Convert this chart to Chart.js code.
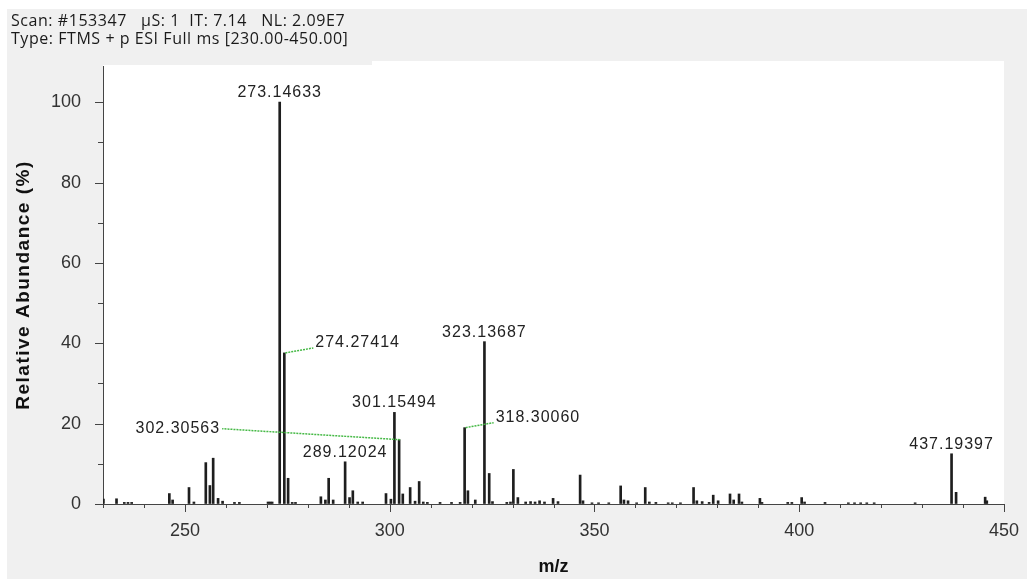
<!DOCTYPE html>
<html>
<head>
<meta charset="utf-8">
<script src="https://cdn.jsdelivr.net/npm/chart.js@4.4.1/dist/chart.umd.min.js"></script>
<style>
    html, body { margin: 0; padding: 0; background: #fff; }
    #wrap { width: 1027px; height: 579px; }
</style>
</head>
<body>
<div id="wrap"><canvas id="spectrum" width="1027" height="579"></canvas></div>
<script>
const scanInfo = 'Scan: #153347   µS: 1  IT: 7.14   NL: 2.09E7';
const scanType = 'Type: FTMS + p ESI Full ms [230.00-450.00]';
const xTitle = 'm/z';
const yTitle = 'Relative Abundance (%)';

// centroid peaks
const peakMz = [
    230.1, 233.3, 235.2, 236.1, 237.0, 246.2, 247.0, 251.0, 252.2, 255.1,
    256.1, 256.9, 258.1, 259.2, 262.1, 263.3, 270.3, 270.8, 271.3, 273.14633,
    274.27414, 275.2, 276.2, 277.0, 283.2, 284.3, 285.1, 286.2, 289.12024, 290.2,
    291.0, 292.2, 293.4, 299.1, 300.3, 301.15494, 302.30563, 303.2, 305.0, 306.2,
    307.2, 308.2, 309.2, 312.3, 315.1, 317.2, 318.30060, 319.1, 320.9, 323.13687,
    324.3, 325.1, 328.6, 329.5, 330.2, 331.3, 333.2, 334.4, 335.5, 336.6,
    337.8, 339.9, 341.1, 346.5, 347.2, 349.4, 351.0, 353.5, 356.4, 357.2,
    358.2, 360.3, 362.4, 363.4, 365.0, 368.0, 369.0, 371.0, 374.2, 375.0,
    376.3, 378.0, 379.0, 380.2, 383.1, 384.0, 385.3, 386.0, 390.4, 390.9,
    397.2, 398.2, 400.6, 401.3, 406.3, 412.0, 413.5, 415.0, 416.5, 418.3,
    428.3, 437.19397, 438.3, 445.4, 445.8
];
const peakAbundance = [
    1.2, 1.3, 0.4, 0.4, 0.4, 2.6, 1.0, 4.1, 0.5, 10.3,
    4.6, 11.4, 1.4, 0.7, 0.4, 0.4, 0.5, 0.5, 0.5, 100,
    37.6, 6.4, 0.4, 0.4, 1.8, 1.0, 6.4, 1.0, 10.5, 1.6,
    3.3, 0.5, 0.5, 2.6, 1.2, 22.8, 16.0, 2.5, 4.1, 0.7,
    5.6, 0.5, 0.4, 0.4, 0.4, 0.4, 19.0, 3.3, 1.0, 40.4,
    7.6, 0.6, 0.4, 0.5, 8.6, 1.6, 0.5, 0.6, 0.5, 0.8,
    0.5, 1.4, 0.6, 7.2, 0.8, 0.3, 0.3, 0.3, 4.5, 1.0,
    0.8, 0.3, 4.1, 0.5, 0.4, 0.3, 0.3, 0.3, 4.1, 0.8,
    0.6, 0.4, 2.2, 0.8, 2.5, 1.0, 2.5, 0.5, 1.4, 0.4,
    0.4, 0.4, 1.6, 0.5, 0.4, 0.3, 0.3, 0.3, 0.3, 0.3,
    0.3, 12.5, 2.9, 1.7, 0.8
];

// peaks that carry an m/z label
const labelledMz = [273.14633, 274.27414, 289.12024, 301.15494, 302.30563, 318.30060, 323.13687, 437.19397];

// label placement relative to the peak top (pixels); default is centred above
const labelPlacement = {
    '274.27414': { dx: 31, dy: -6, align: 'left', leader: [29, -5] },
    '302.30563': { dx: -179, dy: -7, align: 'right', leader: [-177, -11] },
    '318.30060': { dx: 31, dy: -6, align: 'left', leader: [29, -5] }
};

const FONT = '"Liberation Sans", Arial, sans-serif';

const frame = {
    id: 'frame',
    beforeDraw(chart) {
        const ctx = chart.ctx;
        const a = chart.chartArea;
        ctx.save();
        ctx.fillStyle = '#ffffff';
        ctx.fillRect(0, 0, chart.width, chart.height);
        ctx.fillStyle = '#f0f0f0';
        ctx.fillRect(7, 9, chart.width - 7, chart.height - 9);
        ctx.fillStyle = '#ffffff';
        ctx.fillRect(a.left, 61, a.right - a.left, a.bottom - 61);
        ctx.fillStyle = '#f0f0f0';
        ctx.fillRect(7, 9, 365, 56);

        ctx.fillStyle = '#1a1a1a';
        ctx.font = '16px "Open Sans", "Noto Sans", sans-serif';
        ctx.letterSpacing = '0.55px';
        ctx.textBaseline = 'alphabetic';
        ctx.textAlign = 'left';
        ctx.fillText(scanInfo, 11, 26);
        ctx.fillText(scanType, 11, 44);
        ctx.restore();
    },
    afterDraw(chart) {
        const ctx = chart.ctx;
        const a = chart.chartArea;
        const xs = chart.scales.x;
        const ys = chart.scales.y;
        ctx.save();

        // tick marks, long on labelled values
        ctx.strokeStyle = '#444';
        ctx.lineWidth = 1;
        ctx.beginPath();
        ys.ticks.forEach(t => {
            const y = Math.round(ys.getPixelForValue(t.value)) + 0.5;
            const len = t.value % 20 === 0 ? 8 : 5;
            ctx.moveTo(a.left - len, y);
            ctx.lineTo(a.left, y);
        });
        xs.ticks.forEach(t => {
            const x = Math.round(xs.getPixelForValue(t.value)) + 0.5;
            const len = t.value % 50 === 0 ? 8 : 4;
            ctx.moveTo(x, a.bottom);
            ctx.lineTo(x, a.bottom + len);
        });
        ctx.stroke();

        // axis titles
        ctx.fillStyle = '#111';
        ctx.textAlign = 'center';
        ctx.textBaseline = 'middle';
        ctx.font = 'bold 18px ' + FONT;
        ctx.fillText(xTitle, (a.left + a.right) / 2, 567);
        ctx.save();
        ctx.font = 'bold 19px ' + FONT;
        ctx.letterSpacing = '1.5px';
        ctx.translate(24, (a.top + a.bottom) / 2);
        ctx.rotate(-Math.PI / 2);
        ctx.fillText(yTitle, 0, 0);
        ctx.restore();

        // peak labels
        ctx.font = '16px ' + FONT;
        ctx.letterSpacing = '1px';
        ctx.textBaseline = 'alphabetic';
        labelledMz.forEach(mz => {
            const i = peakMz.indexOf(mz);
            const px = xs.getPixelForValue(mz);
            const py = ys.getPixelForValue(peakAbundance[i]);
            const text = mz.toFixed(5);
            const p = labelPlacement[text];
            if (p) {
                ctx.strokeStyle = '#46b946';
                ctx.lineWidth = 1.5;
                ctx.setLineDash([2, 1]);
                ctx.beginPath();
                ctx.moveTo(px + 1, py);
                ctx.lineTo(px + p.leader[0], py + p.leader[1]);
                ctx.stroke();
                ctx.setLineDash([]);
                ctx.fillStyle = '#222';
                ctx.textAlign = p.align;
                ctx.fillText(text, px + p.dx, py + p.dy);
            } else {
                ctx.fillStyle = '#222';
                ctx.textAlign = 'center';
                ctx.fillText(text, px, py - 5);
            }
        });
        ctx.restore();
    }
};

const ctx = document.getElementById('spectrum').getContext('2d');
new Chart(ctx, {
    type: 'bar',
    data: {
        datasets: [{
            data: peakMz.map((mz, i) => ({ x: mz, y: peakAbundance[i] })),
            backgroundColor: '#1e1e1e',
            borderWidth: 0,
            barThickness: 2
        }]
    },
    options: {
        responsive: false,
        animation: false,
        layout: { padding: { top: 66, right: 23, left: 0, bottom: 0 } },
        plugins: {
            legend: { display: false },
            tooltip: { enabled: false }
        },
        scales: {
            x: {
                type: 'linear',
                offset: false,
                min: 230,
                max: 450,
                grid: { offset: false, drawOnChartArea: false, drawTicks: false },
                border: { color: '#444', width: 1 },
                ticks: {
                    stepSize: 10,
                    autoSkip: false,
                    maxRotation: 0,
                    padding: 16,
                    color: '#333',
                    font: { family: FONT, size: 18 },
                    callback: v => (v % 50 === 0 ? v : '')
                },
                afterFit: s => {
                    s.height = 75;
                    s.paddingLeft = 0;
                    s.paddingRight = 0;
                }
            },
            y: {
                min: 0,
                max: 109,
                grid: { drawOnChartArea: false, drawTicks: false },
                border: { color: '#444', width: 1 },
                ticks: {
                    stepSize: 10,
                    includeBounds: false,
                    autoSkip: false,
                    padding: 22,
                    color: '#333',
                    font: { family: FONT, size: 18 },
                    callback: v => (v % 20 === 0 ? v : '')
                },
                afterFit: s => { s.width = 103; }
            }
        }
    },
    plugins: [frame]
});
</script>
</body>
</html>
